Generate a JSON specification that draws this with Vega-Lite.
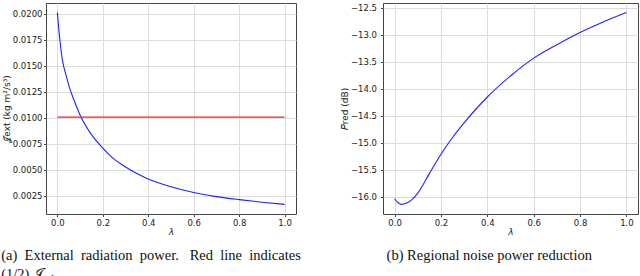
{
  "$schema": "https://vega.github.io/schema/vega-lite/v6.json",
  "padding": {"left": 0, "top": 2, "right": 0, "bottom": 0},
  "background": "white",
  "spacing": 37,
  "config": {
    "view": {"stroke": "#444444", "strokeWidth": 1},
    "axis": {
      "grid": true, "gridColor": "#dcdcdc", "gridWidth": 1, "domain": false,
      "tickColor": "#444444", "tickSize": 2.5, "labelPadding": 1.5, "labelOverlap": false,
      "labelFont": "DejaVu Sans", "labelFontSize": 8.5, "labelColor": "#222222",
      "titleFont": "DejaVu Sans", "titleFontSize": 9, "titleFontWeight": "normal", "titleColor": "#222222", "titlePadding": 1
    },
    "title": {"font": "Liberation Serif", "fontSize": 14.5, "fontWeight": "normal", "color": "#111111", "orient": "bottom", "frame": "bounds", "offset": 12, "lineHeight": 19}
  },
  "datasets": {
    "jext": [
      {"lambda": 0, "J": 0.0201, "series": "J"},
      {"lambda": 0.0057, "J": 0.01865, "series": "J"},
      {"lambda": 0.013, "J": 0.01705, "series": "J"},
      {"lambda": 0.023, "J": 0.01543, "series": "J"},
      {"lambda": 0.038, "J": 0.0141, "series": "J"},
      {"lambda": 0.053, "J": 0.0129, "series": "J"},
      {"lambda": 0.075, "J": 0.01157, "series": "J"},
      {"lambda": 0.104, "J": 0.01005, "series": "J"},
      {"lambda": 0.15, "J": 0.00836, "series": "J"},
      {"lambda": 0.2, "J": 0.00707, "series": "J"},
      {"lambda": 0.25, "J": 0.006, "series": "J"},
      {"lambda": 0.3, "J": 0.00525, "series": "J"},
      {"lambda": 0.35, "J": 0.00462, "series": "J"},
      {"lambda": 0.4, "J": 0.00409, "series": "J"},
      {"lambda": 0.5, "J": 0.00334, "series": "J"},
      {"lambda": 0.6, "J": 0.00279, "series": "J"},
      {"lambda": 0.7, "J": 0.0024, "series": "J"},
      {"lambda": 0.8, "J": 0.00211, "series": "J"},
      {"lambda": 0.9, "J": 0.00186, "series": "J"},
      {"lambda": 1.0, "J": 0.00165, "series": "J"},
      {"lambda": 0, "J": 0.01005, "series": "half"},
      {"lambda": 1.0, "J": 0.01005, "series": "half"}
    ],
    "pred": [
      {"lambda": 0, "P": -16.036},
      {"lambda": 0.015, "P": -16.11},
      {"lambda": 0.03, "P": -16.14},
      {"lambda": 0.05, "P": -16.12},
      {"lambda": 0.075, "P": -16.05},
      {"lambda": 0.1, "P": -15.93},
      {"lambda": 0.15, "P": -15.57},
      {"lambda": 0.2, "P": -15.21},
      {"lambda": 0.25, "P": -14.9},
      {"lambda": 0.3, "P": -14.63},
      {"lambda": 0.4, "P": -14.15},
      {"lambda": 0.5, "P": -13.76},
      {"lambda": 0.6, "P": -13.43},
      {"lambda": 0.7, "P": -13.18},
      {"lambda": 0.8, "P": -12.955},
      {"lambda": 0.9, "P": -12.76},
      {"lambda": 1.0, "P": -12.586}
    ]
  },
  "hconcat": [
    {
      "width": 250,
      "height": 211,
      "title": {"text": ["(a)\u00a0 External\u00a0 radiation\u00a0 power.\u00a0 \u00a0Red\u00a0 line\u00a0 indicates", "(1/2) 𝒥ₑₓₜ."], "anchor": "start", "align": "left", "dx": -1},
      "data": {"name": "jext"},
      "mark": {"type": "line", "strokeWidth": 1.1, "interpolate": "monotone"},
      "encoding": {
        "x": {"field": "lambda", "type": "quantitative", "scale": {"domain": [-0.05, 1.05], "nice": false, "zero": false},
              "axis": {"values": [0, 0.2, 0.4, 0.6, 0.8, 1.0], "format": ".1f", "title": "λ", "titleFontStyle": "italic"}},
        "y": {"field": "J", "type": "quantitative", "scale": {"domain": [0.000727, 0.021023], "nice": false, "zero": false},
              "axis": {"values": [0.0025, 0.005, 0.0075, 0.01, 0.0125, 0.015, 0.0175, 0.02], "format": ".4f", "labelOverlap": false, "title": "𝒥ext (kg m²/s³)"}},
        "color": {"field": "series", "type": "nominal", "scale": {"domain": ["J", "half"], "range": ["#2020ff", "#e02a2a"]}, "legend": null}
      }
    },
    {
      "width": 255,
      "height": 211,
      "title": {"text": "(b) Regional noise power reduction", "anchor": "middle"},
      "data": {"name": "pred"},
      "mark": {"type": "line", "color": "#2020ff", "strokeWidth": 1.1, "interpolate": "monotone"},
      "encoding": {
        "x": {"field": "lambda", "type": "quantitative", "scale": {"domain": [-0.05, 1.05], "nice": false, "zero": false},
              "axis": {"values": [0, 0.2, 0.4, 0.6, 0.8, 1.0], "format": ".1f", "title": "λ", "titleFontStyle": "italic"}},
        "y": {"field": "P", "type": "quantitative", "scale": {"domain": [-16.318, -12.408], "nice": false, "zero": false},
              "axis": {"values": [-16, -15.5, -15, -14.5, -14, -13.5, -13, -12.5], "format": ".1f", "title": "𝑃red (dB)", "labelPadding": 4}}
      }
    }
  ]
}
